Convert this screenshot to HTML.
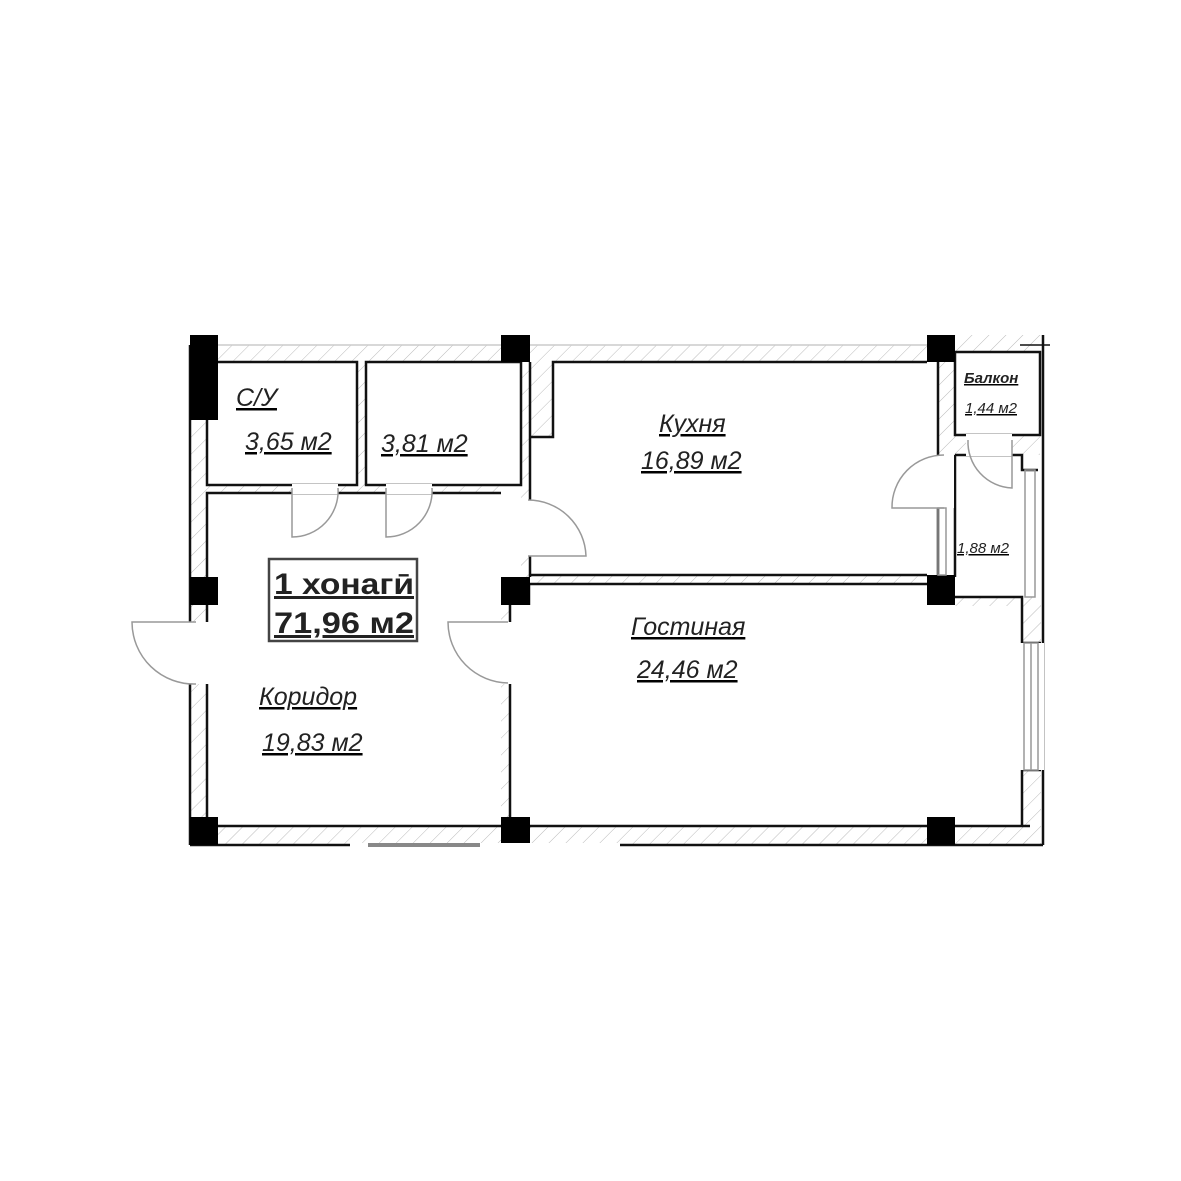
<!DOCTYPE html>
<html><head><meta charset="utf-8"><style>
html,body{margin:0;padding:0;background:#fff}
svg{display:block}
text{font-family:"Liberation Sans",sans-serif;fill:#222}
</style></head><body>
<svg width="1181" height="1181" viewBox="0 0 1181 1181" xmlns="http://www.w3.org/2000/svg">
<defs>
<pattern id="h" width="12" height="12" patternUnits="userSpaceOnUse" patternTransform="rotate(45)">
<line x1="0" y1="0" x2="0" y2="12" stroke="#bbb" stroke-width="1"/>
</pattern>
</defs>
<rect width="1181" height="1181" fill="#fff"/>
<g fill="url(#h)">
<rect x="207" y="345" width="320" height="17"/>
<rect x="530" y="345" width="397" height="17"/>
<rect x="955" y="335" width="86" height="17"/>
<rect x="190" y="420" width="17" height="425"/>
<rect x="207" y="485" width="294" height="8"/>
<rect x="357" y="362" width="9" height="123"/>
<rect x="521" y="362" width="9" height="215"/>
<rect x="530" y="362" width="23" height="75"/>
<rect x="501" y="605" width="9" height="212"/>
<rect x="218" y="826" width="810" height="19"/>
<rect x="530" y="575" width="397" height="9"/>
<rect x="938" y="362" width="17" height="93"/>
<rect x="955" y="435" width="85" height="20"/>
<rect x="1022" y="597" width="19" height="46"/>
<rect x="1022" y="770" width="19" height="75"/>
<rect x="955" y="597" width="67" height="9"/>
</g>
<g fill="none" stroke="#111" stroke-width="2.5">
<rect x="207" y="362" width="150" height="123"/>
<rect x="366" y="362" width="155" height="123"/>
<polyline points="207,845 207,493 501,493"/>
<line x1="218" y1="826" x2="501" y2="826"/>
<polyline points="530,437 553,437 553,362 927,362"/>
<polyline points="530,362 530,577"/>
<line x1="530" y1="575" x2="927" y2="575"/>
<line x1="530" y1="584" x2="927" y2="584"/>
<line x1="938" y1="362" x2="938" y2="455"/>
<line x1="938" y1="508" x2="938" y2="575"/>
<polyline points="510,605 510,826 1030,826"/>
<line x1="529" y1="584" x2="529" y2="605"/>
<polyline points="955,597 1022,597 1022,643 1041,643"/>
<polyline points="1041,770 1022,770 1022,826"/>
<line x1="1043" y1="335" x2="1043" y2="845"/>
<line x1="190" y1="845" x2="1043" y2="845"/>
<rect x="955" y="352" width="85" height="83"/>
<polyline points="955,455 1022,455 1022,470 1038,470"/>
<line x1="955" y1="455" x2="955" y2="577"/>
<line x1="190" y1="345" x2="190" y2="845"/>
</g>
<line x1="207" y1="345" x2="927" y2="345" stroke="#ccc" stroke-width="1.5"/>
<line x1="1020" y1="345" x2="1050" y2="345" stroke="#111" stroke-width="1.5"/>
<g fill="#000">
<rect x="190" y="335" width="28" height="85"/>
<rect x="501" y="335" width="29" height="27"/>
<rect x="927" y="335" width="28" height="27"/>
<rect x="190" y="577" width="28" height="28"/>
<rect x="501" y="577" width="29" height="28"/>
<rect x="927" y="575" width="28" height="30"/>
<rect x="190" y="817" width="28" height="28"/>
<rect x="501" y="817" width="29" height="28"/>
<rect x="927" y="817" width="28" height="28"/>
</g>
<g fill="#fff">
<rect x="292" y="484" width="46" height="10"/>
<rect x="386" y="484" width="46" height="10"/>
<rect x="500" y="500" width="32" height="56"/>
<rect x="500" y="622" width="12" height="62"/>
<rect x="186" y="622" width="24" height="62"/>
<rect x="930" y="455" width="24" height="53"/>
<rect x="966" y="434" width="46" height="22"/>
<rect x="1020" y="643" width="24" height="127"/>
<rect x="350" y="843" width="270" height="4"/>
</g>
<g fill="none" stroke="#999" stroke-width="1.5">
<path d="M292,488 V537 A46,46 0 0 0 338,488"/>
<path d="M386,488 V537 A46,46 0 0 0 432,488"/>
<path d="M528,500 A58,58 0 0 1 586,556 H528"/>
<path d="M508,622 H448 A61,61 0 0 0 508,683"/>
<path d="M196,622 H132 A62,62 0 0 0 196,684"/>
<path d="M944,455 A52,52 0 0 0 892,508 H944"/>
<path d="M968,440 A46,46 0 0 0 1012,488 V440"/>
<rect x="938" y="508" width="8" height="67"/>
<rect x="1025" y="470" width="10" height="127"/>
<rect x="1024" y="643" width="14" height="127"/>
<line x1="1031" y1="643" x2="1031" y2="770"/>
</g>
<rect x="368" y="843" width="112" height="4" fill="#888"/>
<g font-style="italic" text-decoration="underline">
<text x="236" y="406" font-size="25">С/У</text>
<text x="245" y="450" font-size="25">3,65 м2</text>
<text x="381" y="452" font-size="25">3,81 м2</text>
<text x="659" y="432" font-size="25">Кухня</text>
<text x="641" y="469" font-size="25">16,89 м2</text>
<text x="631" y="635" font-size="25">Гостиная</text>
<text x="637" y="678" font-size="25">24,46 м2</text>
<text x="259" y="705" font-size="25">Коридор</text>
<text x="262" y="751" font-size="25">19,83 м2</text>
<text x="964" y="383" font-size="15" font-weight="bold">Балкон</text>
<text x="965" y="413" font-size="15">1,44 м2</text>
<text x="957" y="553" font-size="15">1,88 м2</text>
</g>
<rect x="269" y="559" width="148" height="82" fill="none" stroke="#444" stroke-width="2.5"/>
<text x="274" y="594" font-size="30" font-weight="bold" text-decoration="underline" fill="#333" textLength="140" lengthAdjust="spacingAndGlyphs">1 хонагӣ</text>
<text x="274" y="633" font-size="30" font-weight="bold" text-decoration="underline" fill="#333" textLength="140" lengthAdjust="spacingAndGlyphs">71,96 м2</text>
</svg>
</body></html>
